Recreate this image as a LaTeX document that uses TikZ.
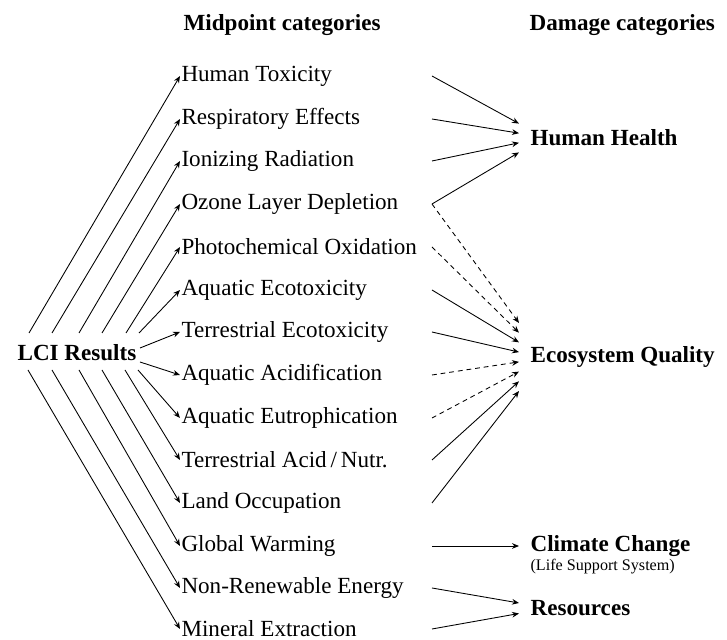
\documentclass[tikz,border=0pt]{standalone}
\usepackage{fontspec}
\setmainfont{Liberation Serif}
\usetikzlibrary{arrows, arrows.meta}
\usetikzlibrary{calc}

\begin{document}
\begin{tikzpicture}[x=0.459pt, y={(0pt,-0.459pt)},
        font=\fontsize{10.6}{12.7}\selectfont,
        mid/.style={anchor=west, inner sep=0.5pt},
        dmg/.style={anchor=west, inner sep=1pt, font=\fontsize{10.6}{12.7}\selectfont\bfseries},
        arr/.style={-{Stealth[length=3.2pt, width=2.6pt]}},
        dsh/.style={arr, dash pattern=on 2.2pt off 1.8pt}]
        \useasboundingbox (0,0) rectangle (727,640);

        % column heads
        \node[dmg] (hmid) at (181,25) {Midpoint categories};
        \node[dmg] (hdmg) at (527,25) {Damage categories};

        \node[font=\fontsize{10.6}{12.7}\selectfont\bfseries] (lci) at (77,353) {LCI Results};

        \node[mid] (ht) at (180,76) {Human Toxicity};
        \node[mid] (re) at (180,119) {Respiratory Effects};
        \node[mid] (ir) at (180,161) {Ionizing Radiation};
        \node[mid] (old) at (180,204) {Ozone Layer Depletion};
        \node[mid] (po) at (180,247) {Photochemical Oxidation};
        \node[mid] (aet) at (180,290) {Aquatic Ecotoxicity};
        \node[mid] (tet) at (180,332) {Terrestrial Ecotoxicity};
        \node[mid] (aa) at (180,375) {Aquatic Acidification};
        \node[mid] (ae) at (180,418) {Aquatic Eutrophication};
        \node[mid] (tan) at (180,460) {Terrestrial Acid\,/\,Nutr.};
        \node[mid] (lo) at (180,503) {Land Occupation};
        \node[mid] (gw) at (180,546) {Global Warming};
        \node[mid] (nre) at (180,588) {Non-Renewable Energy};
        \node[mid] (me) at (180,629) {Mineral Extraction};

        \node[dmg] (hh) at (528,138) {Human Health};
        \node[dmg] (eq) at (528,357) {Ecosystem Quality};
        \node[dmg] (cc) at (528,546) {Climate Change};
        \node[anchor=west, inner sep=1pt, font=\fontsize{7.4}{9}\selectfont] (lss) at (528,567) {(Life Support System)};
        \node[dmg] (res) at (528,608) {Resources};

        \coordinate (rx) at (432,0);

        % LCI results to midpoints
        \draw[arr] ([shift={(-48,-20)}]lci.center) -- (ht.west);
        \draw[arr] ([shift={(-25,-20)}]lci.center) -- (re.west);
        \draw[arr] ([shift={(2,-20)}]lci.center) -- (ir.west);
        \draw[arr] ([shift={(25,-20)}]lci.center) -- (old.west);
        \draw[arr] ([shift={(49,-20)}]lci.center) -- (po.west);
        \draw[arr] ([shift={(62,-20)}]lci.center) -- (aet.west);
        \draw[arr] ([shift={(63,-5)}]lci.center) -- (tet.west);
        \draw[arr] ([shift={(63,9)}]lci.center) -- (aa.west);
        \draw[arr] ([shift={(61,17)}]lci.center) -- (ae.west);
        \draw[arr] ([shift={(48,17)}]lci.center) -- (tan.west);
        \draw[arr] ([shift={(25,17)}]lci.center) -- (lo.west);
        \draw[arr] ([shift={(2,17)}]lci.center) -- (gw.west);
        \draw[arr] ([shift={(-25,17)}]lci.center) -- (nre.west);
        \draw[arr] ([shift={(-49,17)}]lci.center) -- (me.west);

        % midpoints to damage
        \draw[arr] (ht.west -| rx) -- ([shift={(-9,-14.4)}]hh.west);
        \draw[arr] (re.west -| rx) -- ([shift={(-9,-4.8)}]hh.west);
        \draw[arr] (ir.west -| rx) -- ([shift={(-9,4.8)}]hh.west);
        \draw[arr] (old.west -| rx) -- ([shift={(-9,14.4)}]hh.west);

        \draw[dsh] (old.west -| rx) -- ([shift={(-9,-34)}]eq.west);
        \draw[dsh] (po.west -| rx) -- ([shift={(-9,-24.3)}]eq.west);
        \draw[arr] (aet.west -| rx) -- ([shift={(-9,-14.6)}]eq.west);
        \draw[arr] (tet.west -| rx) -- ([shift={(-9,-4.9)}]eq.west);
        \draw[dsh] (aa.west -| rx) -- ([shift={(-9,4.9)}]eq.west);
        \draw[dsh] (ae.west -| rx) -- ([shift={(-9,14.6)}]eq.west);
        \draw[arr] (tan.west -| rx) -- ([shift={(-9,24.3)}]eq.west);
        \draw[arr] (lo.west -| rx) -- ([shift={(-9,34)}]eq.west);

        \draw[arr] (gw.west -| rx) -- ([shift={(-9,0)}]cc.west);
        \draw[arr] (nre.west -| rx) -- ([shift={(-9,-5)}]res.west);
        \draw[arr] (me.west -| rx) -- ([shift={(-9,5.5)}]res.west);
\end{tikzpicture}
\end{document}
